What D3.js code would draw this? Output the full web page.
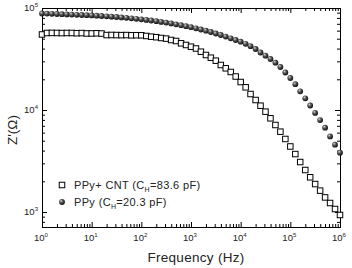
<!DOCTYPE html>
<html>
<head>
<meta charset="utf-8">
<script src="https://cdn.jsdelivr.net/npm/d3@7"></script>
<style>
  body { margin: 0; background: #fff; }
  svg { display: block; font-family: "Liberation Sans", Arial, sans-serif; }
</style>
</head>
<body>
<div id="chart"></div>
<script>
/* DATA */
const frequency = [
  1, 1.26, 1.58, 2, 2.51, 3.16, 3.98, 5.01, 6.31, 7.94,
  10, 12.6, 15.8, 20, 25.1, 31.6, 39.8, 50.1, 63.1, 79.4,
  100, 126, 158, 200, 251, 316, 398, 501, 631, 794,
  1e3, 1.26e3, 1.58e3, 2e3, 2.51e3, 3.16e3, 3.98e3, 5.01e3, 6.31e3, 7.94e3,
  1e4, 1.26e4, 1.58e4, 2e4, 2.51e4, 3.16e4, 3.98e4, 5.01e4, 6.31e4, 7.94e4,
  1e5, 1.26e5, 1.58e5, 2e5, 2.51e5, 3.16e5, 3.98e5, 5.01e5, 6.31e5, 7.94e5,
  1e6
];

// PPy+ CNT, Z' (ohm)
const zCnt = [
  55000, 56900, 57000, 56900, 56800, 56900, 56900, 56600, 56800, 56300,
  56300, 56500, 56200, 54300, 54400, 54300, 54200, 54300, 54000, 54100,
  54000, 53170, 52320, 51730, 50810, 50120, 48560, 47480, 45070, 43380,
  41740, 40090, 37290, 34610, 32560, 30430, 27620, 25630, 23590, 21300,
  18810, 16690, 14350, 12530, 11020, 9630, 8290, 7130, 6130, 5200,
  4390, 3700, 3090, 2580, 2190, 1880, 1620, 1390, 1225, 1070,
  935
];

// PPy, Z' (ohm)
const zPpy = [
  88330, 88130, 87730, 87340, 86950, 86560, 86170, 85780, 85400, 85010,
  84640, 84060, 83490, 82920, 82170, 81620, 80880, 80150, 79250, 78360,
  77480, 76440, 75420, 74230, 73060, 71930, 70630, 69210, 67820, 66300,
  64830, 63240, 61550, 59910, 58180, 56230, 54360, 52430, 50460, 48560,
  46730, 44570, 42230, 39630, 36620, 34080, 31620, 29090, 26400, 23320,
  20590, 17900, 15250, 13020, 11070, 9370, 7960, 6710, 5510, 4570,
  3815
];

const xMajor = [1, 10, 100, 1e3, 1e4, 1e5, 1e6];
const xExp = ["0", "1", "2", "3", "4", "5", "6"];
const yMajor = [1e3, 1e4, 1e5];
const yExp = ["3", "4", "5"];

const legendLabels = [
  { pre: "PPy+ CNT (C", sub: "H", post: "=83.6 pF)" },
  { pre: "PPy (C", sub: "H", post: "=20.3 pF)" }
];

/* LAYOUT */
const width = 352,
  height = 268,
  margin = { top: 8, bottom: 41, left: 42, right: 12 };

const svg = d3.select("#chart")
  .append("svg")
  .attr("width", width)
  .attr("height", height);

// sphere shading
const grad = svg.append("defs")
  .append("radialGradient")
  .attr("id", "ball")
  .attr("cx", "40%").attr("cy", "40%").attr("r", "60%")
  .attr("fx", "35%").attr("fy", "30%");
grad.append("stop").attr("offset", "0%").attr("stop-color", "#d8d8d8");
grad.append("stop").attr("offset", "45%").attr("stop-color", "#555");
grad.append("stop").attr("offset", "100%").attr("stop-color", "#111");

/* SCALES */
const xScale = d3.scaleLog()
  .domain([1, 1e6])
  .range([margin.left, width - margin.right]);

const yScale = d3.scaleLog()
  .domain([712.9, 1e5])
  .range([height - margin.bottom, margin.top]);

// minor ticks 2..9 for every decade
const minorTicks = (scale) => scale.ticks().filter(v => {
  const m = v / Math.pow(10, Math.floor(Math.log10(v) + 1e-9));
  return Math.abs(m - 1) > 1e-6;
});

const x0 = margin.left, x1 = width - margin.right;
const y0 = height - margin.bottom, y1 = margin.top;

/* AXES (ticks pointing in) */
function addAxis(axisFn, scale, transform, values, size) {
  svg.append("g")
    .attr("transform", transform)
    .call(axisFn(scale).tickValues(values).tickSize(-size).tickFormat("").tickSizeOuter(0))
    .call(g => g.select(".domain").remove())
    .call(g => g.selectAll("line").attr("stroke", "#000").attr("stroke-width", 1));
}

addAxis(d3.axisBottom, xScale, `translate(0,${y0})`, xMajor, 5);
addAxis(d3.axisBottom, xScale, `translate(0,${y0})`, minorTicks(xScale), 3);
addAxis(d3.axisTop, xScale, `translate(0,${y1})`, xMajor, 5);
addAxis(d3.axisTop, xScale, `translate(0,${y1})`, minorTicks(xScale), 3);
addAxis(d3.axisLeft, yScale, `translate(${x0},0)`, yMajor, 5);
addAxis(d3.axisLeft, yScale, `translate(${x0},0)`, minorTicks(yScale), 3);
addAxis(d3.axisRight, yScale, `translate(${x1},0)`, yMajor, 5);
addAxis(d3.axisRight, yScale, `translate(${x1},0)`, minorTicks(yScale), 3);

// frame
svg.append("rect")
  .attr("x", x0 + 0.5).attr("y", y1 + 0.5)
  .attr("width", x1 - x0).attr("height", y0 - y1)
  .attr("fill", "none")
  .attr("stroke", "#000")
  .attr("stroke-width", 1);

// tick labels
const xLab = svg.append("g").selectAll("text")
  .data(xMajor)
  .join("text")
  .attr("x", d => xScale(d) - 1)
  .attr("y", y0 + 14)
  .attr("text-anchor", "middle")
  .attr("font-size", 9.5)
  .attr("fill", "#222");
xLab.append("tspan").text("10");
xLab.append("tspan").attr("dy", -4).attr("font-size", 6).text((d, i) => xExp[i]);

const yLab = svg.append("g").selectAll("text")
  .data(yMajor)
  .join("text")
  .attr("x", x0 - 4)
  .attr("y", d => yScale(d) + 3)
  .attr("text-anchor", "end")
  .attr("font-size", 9.5)
  .attr("fill", "#222");
yLab.append("tspan").text("10");
yLab.append("tspan").attr("dy", -4).attr("font-size", 6).text((d, i) => yExp[i]);

// axis titles
svg.append("text")
  .attr("x", 196)
  .attr("y", 262)
  .attr("text-anchor", "middle")
  .attr("font-size", 13.5)
  .attr("letter-spacing", 0.3)
  .attr("fill", "#222")
  .text("Frequency (Hz)");

svg.append("text")
  .attr("transform", `translate(${17},${130})rotate(-90)`)
  .attr("text-anchor", "middle")
  .attr("font-size", 13.5)
  .attr("fill", "#222")
  .text("Z'(Ω)");

/* DATA MARKS */
const s = 5.5;
svg.append("g").selectAll("rect")
  .data(frequency)
  .join("rect")
  .attr("x", (d) => xScale(d) - s / 2)
  .attr("y", (d, i) => yScale(zCnt[i]) - s / 2)
  .attr("width", s)
  .attr("height", s)
  .attr("fill", "#fff")
  .attr("stroke", "#000")
  .attr("stroke-width", 1);

svg.append("g").selectAll("circle")
  .data(frequency)
  .join("circle")
  .attr("cx", d => xScale(d))
  .attr("cy", (d, i) => yScale(zPpy[i]))
  .attr("r", 2.9)
  .attr("fill", "url(#ball)");

/* LEGEND */
const legend = svg.append("g");
legend.append("rect")
  .attr("x", 62 - s / 2).attr("y", 185 - s / 2)
  .attr("width", s).attr("height", s)
  .attr("fill", "#fff").attr("stroke", "#000");
legend.append("circle")
  .attr("cx", 62).attr("cy", 202).attr("r", 2.9)
  .attr("fill", "url(#ball)");

const lt = legend.selectAll("text")
  .data(legendLabels)
  .join("text")
  .attr("x", 74)
  .attr("y", (d, i) => 189 + i * 17)
  .attr("font-size", 11)
  .attr("letter-spacing", 0.35)
  .attr("fill", "#222");
lt.append("tspan").text(d => d.pre);
lt.append("tspan").attr("dy", 2.5).attr("font-size", 7).text(d => d.sub);
lt.append("tspan").attr("dy", -2.5).text(d => d.post);
</script>
</body>
</html>
